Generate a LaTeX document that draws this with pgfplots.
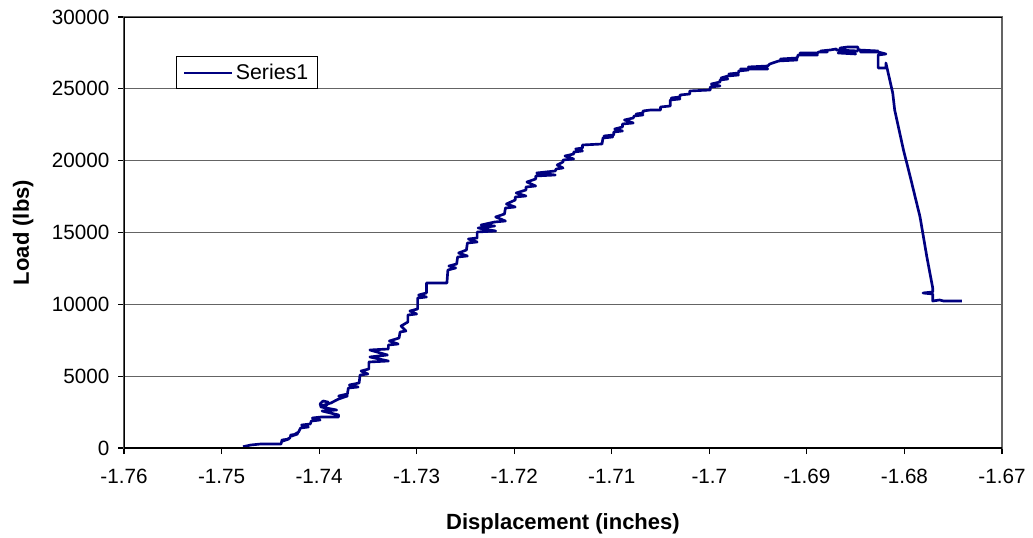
\documentclass[border=0pt]{standalone}
\usepackage{pgfplots}
\pgfplotsset{compat=1.18}
\usepackage{fontspec}
\setmainfont{Liberation Sans}
\definecolor{navyline}{RGB}{0,0,128}
\definecolor{gridc}{RGB}{100,100,100}
\begin{document}
\begin{tikzpicture}
\path[use as bounding box] (-93pt,-66.75pt) rectangle (681.75pt,336pt);
\begin{axis}[
  at={(0,0)}, anchor=south west,
  scale only axis,
  width=658.5pt, height=323.25pt,
  xmin=-1.76, xmax=-1.67,
  ymin=0, ymax=30000,
  xtick={-1.76,-1.75,-1.74,-1.73,-1.72,-1.71,-1.70,-1.69,-1.68,-1.67},
  ytick={0,5000,10000,15000,20000,25000,30000},
  scaled x ticks=false, scaled y ticks=false,
  xticklabel={\pgfmathprintnumber[fixed,precision=2,assume math mode=true]{\tick}},
  yticklabel={\pgfmathprintnumber[fixed,precision=0,1000 sep={},assume math mode=true]{\tick}},
  tick label style={font=\fontsize{15.5}{18}\selectfont},
  x tick label style={yshift=-8pt},
  y tick label style={xshift=-3pt},
  tick pos=left, tick align=outside,
  major tick length=4.5pt,
  tick style={black, line width=0.8pt},
  ymajorgrids=true,
  grid style={gridc, line width=0.8pt},
  axis line style={draw=gridc, line width=0.8pt},
  xlabel={\textbf{Displacement (inches)}},
  ylabel={\textbf{Load (lbs)}},
  label style={font=\fontsize{16.5}{19}\selectfont},
  xlabel style={at={(axis description cs:0.5,-0.176)}, anchor=center},
  ylabel style={at={(axis description cs:-0.1149,0.5)}, anchor=center},
  legend style={at={(0.0592,0.9095)}, anchor=north west, draw=black, fill=white,
    font=\fontsize{16}{19}\selectfont, inner xsep=5pt, inner ysep=3.5pt, line width=0.8pt,
    cells={anchor=west}},
  legend image code/.code={\draw[#1, line width=1.5pt] (0pt,0pt) -- (36pt,0pt);},
]
\addplot[navyline, line width=2pt, line join=round] coordinates {
(-1.7478,90) (-1.7470,209) (-1.7460,278) (-1.7439,278) (-1.7438,557) (-1.7431,626)
(-1.7437,487) (-1.7430,696) (-1.7429,905) (-1.7422,975) (-1.7428,835) (-1.7421,1114)
(-1.7419,1392) (-1.7411,1462) (-1.7418,1601) (-1.7409,1671) (-1.7408,1879) (-1.7399,1949)
(-1.7407,2088) (-1.7398,2158) (-1.7380,2158) (-1.7380,2297) (-1.7397,2576) (-1.7382,2645)
(-1.7398,2854) (-1.7399,3063) (-1.7396,3272) (-1.7391,3202) (-1.7392,2993) (-1.7398,2924)
(-1.7388,3132) (-1.7380,3411) (-1.7371,3620) (-1.7380,3620) (-1.7371,3759) (-1.7370,4177)
(-1.7360,4246) (-1.7369,4386) (-1.7359,4525) (-1.7358,5082) (-1.7350,5151) (-1.7357,5360)
(-1.7349,5499) (-1.7349,5986) (-1.7329,6056) (-1.7348,6335) (-1.7330,6474) (-1.7348,6822)
(-1.7329,6891) (-1.7329,7170) (-1.7319,7239) (-1.7328,7448) (-1.7318,7657) (-1.7317,8075)
(-1.7311,8144) (-1.7316,8492) (-1.7309,8771) (-1.7309,9258) (-1.7300,9328) (-1.7307,9536)
(-1.7299,9676) (-1.7299,10442) (-1.7290,10511) (-1.7298,10650) (-1.7290,10790) (-1.7290,11486)
(-1.7269,11486) (-1.7268,12391) (-1.7260,12530) (-1.7267,12669) (-1.7259,12808) (-1.7258,13296)
(-1.7248,13365) (-1.7257,13574) (-1.7249,13783) (-1.7248,14270) (-1.7238,14340) (-1.7247,14549)
(-1.7238,14618) (-1.7238,15036) (-1.7219,15105) (-1.7237,15314) (-1.7220,15453) (-1.7234,15523)
(-1.7220,15732) (-1.7209,15801) (-1.7219,16080) (-1.7210,16289) (-1.7209,16706) (-1.7199,16776)
(-1.7208,16985) (-1.7199,17263) (-1.7199,17472) (-1.7188,17542) (-1.7198,17751) (-1.7188,17959)
(-1.7188,18168) (-1.7178,18238) (-1.7187,18516) (-1.7178,18725) (-1.7178,18934) (-1.7158,19004)
(-1.7177,19143) (-1.7158,19282) (-1.7157,19421) (-1.7150,19491) (-1.7156,19700) (-1.7150,19908)
(-1.7150,20048) (-1.7139,20117) (-1.7148,20326) (-1.7139,20465) (-1.7139,20605) (-1.7130,20674)
(-1.7137,20813) (-1.7130,20883) (-1.7130,21092) (-1.7110,21161) (-1.7109,21579) (-1.7099,21649)
(-1.7108,21718) (-1.7098,21788) (-1.7098,21997) (-1.7089,22066) (-1.7097,22205) (-1.7089,22345)
(-1.7089,22554) (-1.7078,22623) (-1.7087,22832) (-1.7078,22971) (-1.7077,23111) (-1.7068,23180)
(-1.7075,23250) (-1.7068,23319) (-1.7068,23459) (-1.7060,23528) (-1.7050,23528) (-1.7050,23737)
(-1.7040,23807) (-1.7040,24225) (-1.7030,24295) (-1.7039,24364) (-1.7030,24434) (-1.7030,24572)
(-1.7020,24642) (-1.7020,24851) (-1.6999,24920) (-1.6999,25129) (-1.6989,25199) (-1.6998,25338)
(-1.6989,25477) (-1.6989,25616) (-1.6981,25686) (-1.6988,25755) (-1.6981,25895) (-1.6970,25964)
(-1.6980,26034) (-1.6970,26104) (-1.6970,26243) (-1.6960,26312) (-1.6968,26382) (-1.6940,26382)
(-1.6960,26521) (-1.6940,26591) (-1.6938,26730) (-1.6929,26939) (-1.6910,27008) (-1.6927,27078)
(-1.6910,27148) (-1.6909,27357) (-1.6889,27357) (-1.6907,27496) (-1.6889,27496) (-1.6888,27565)
(-1.6879,27565) (-1.6886,27635) (-1.6876,27705) (-1.6870,27774) (-1.6870,27705) (-1.6848,27635)
(-1.6868,27496) (-1.6850,27426) (-1.6866,27844) (-1.6858,27914) (-1.6848,27914) (-1.6847,27705)
(-1.6827,27635) (-1.6845,27565) (-1.6827,27565) (-1.6819,27426) (-1.6827,27357) (-1.6827,26452)
(-1.6819,26452) (-1.6819,26800) (-1.6812,24712) (-1.6810,23528) (-1.6801,20744) (-1.6794,18864)
(-1.6784,16080) (-1.6777,13296) (-1.6771,11138) (-1.6771,10859) (-1.6781,10790) (-1.6771,10720)
(-1.6771,10233) (-1.6764,10302) (-1.6760,10233) (-1.6741,10233)
};
\addlegendentry{Series1}
\draw[black, line width=0.8pt] (rel axis cs:0,1) -- (rel axis cs:0,0) -- (rel axis cs:1,0);
\draw[black, line width=0.8pt] (rel axis cs:0,1) -- (rel axis cs:1,1);
\end{axis}
\end{tikzpicture}
\end{document}
